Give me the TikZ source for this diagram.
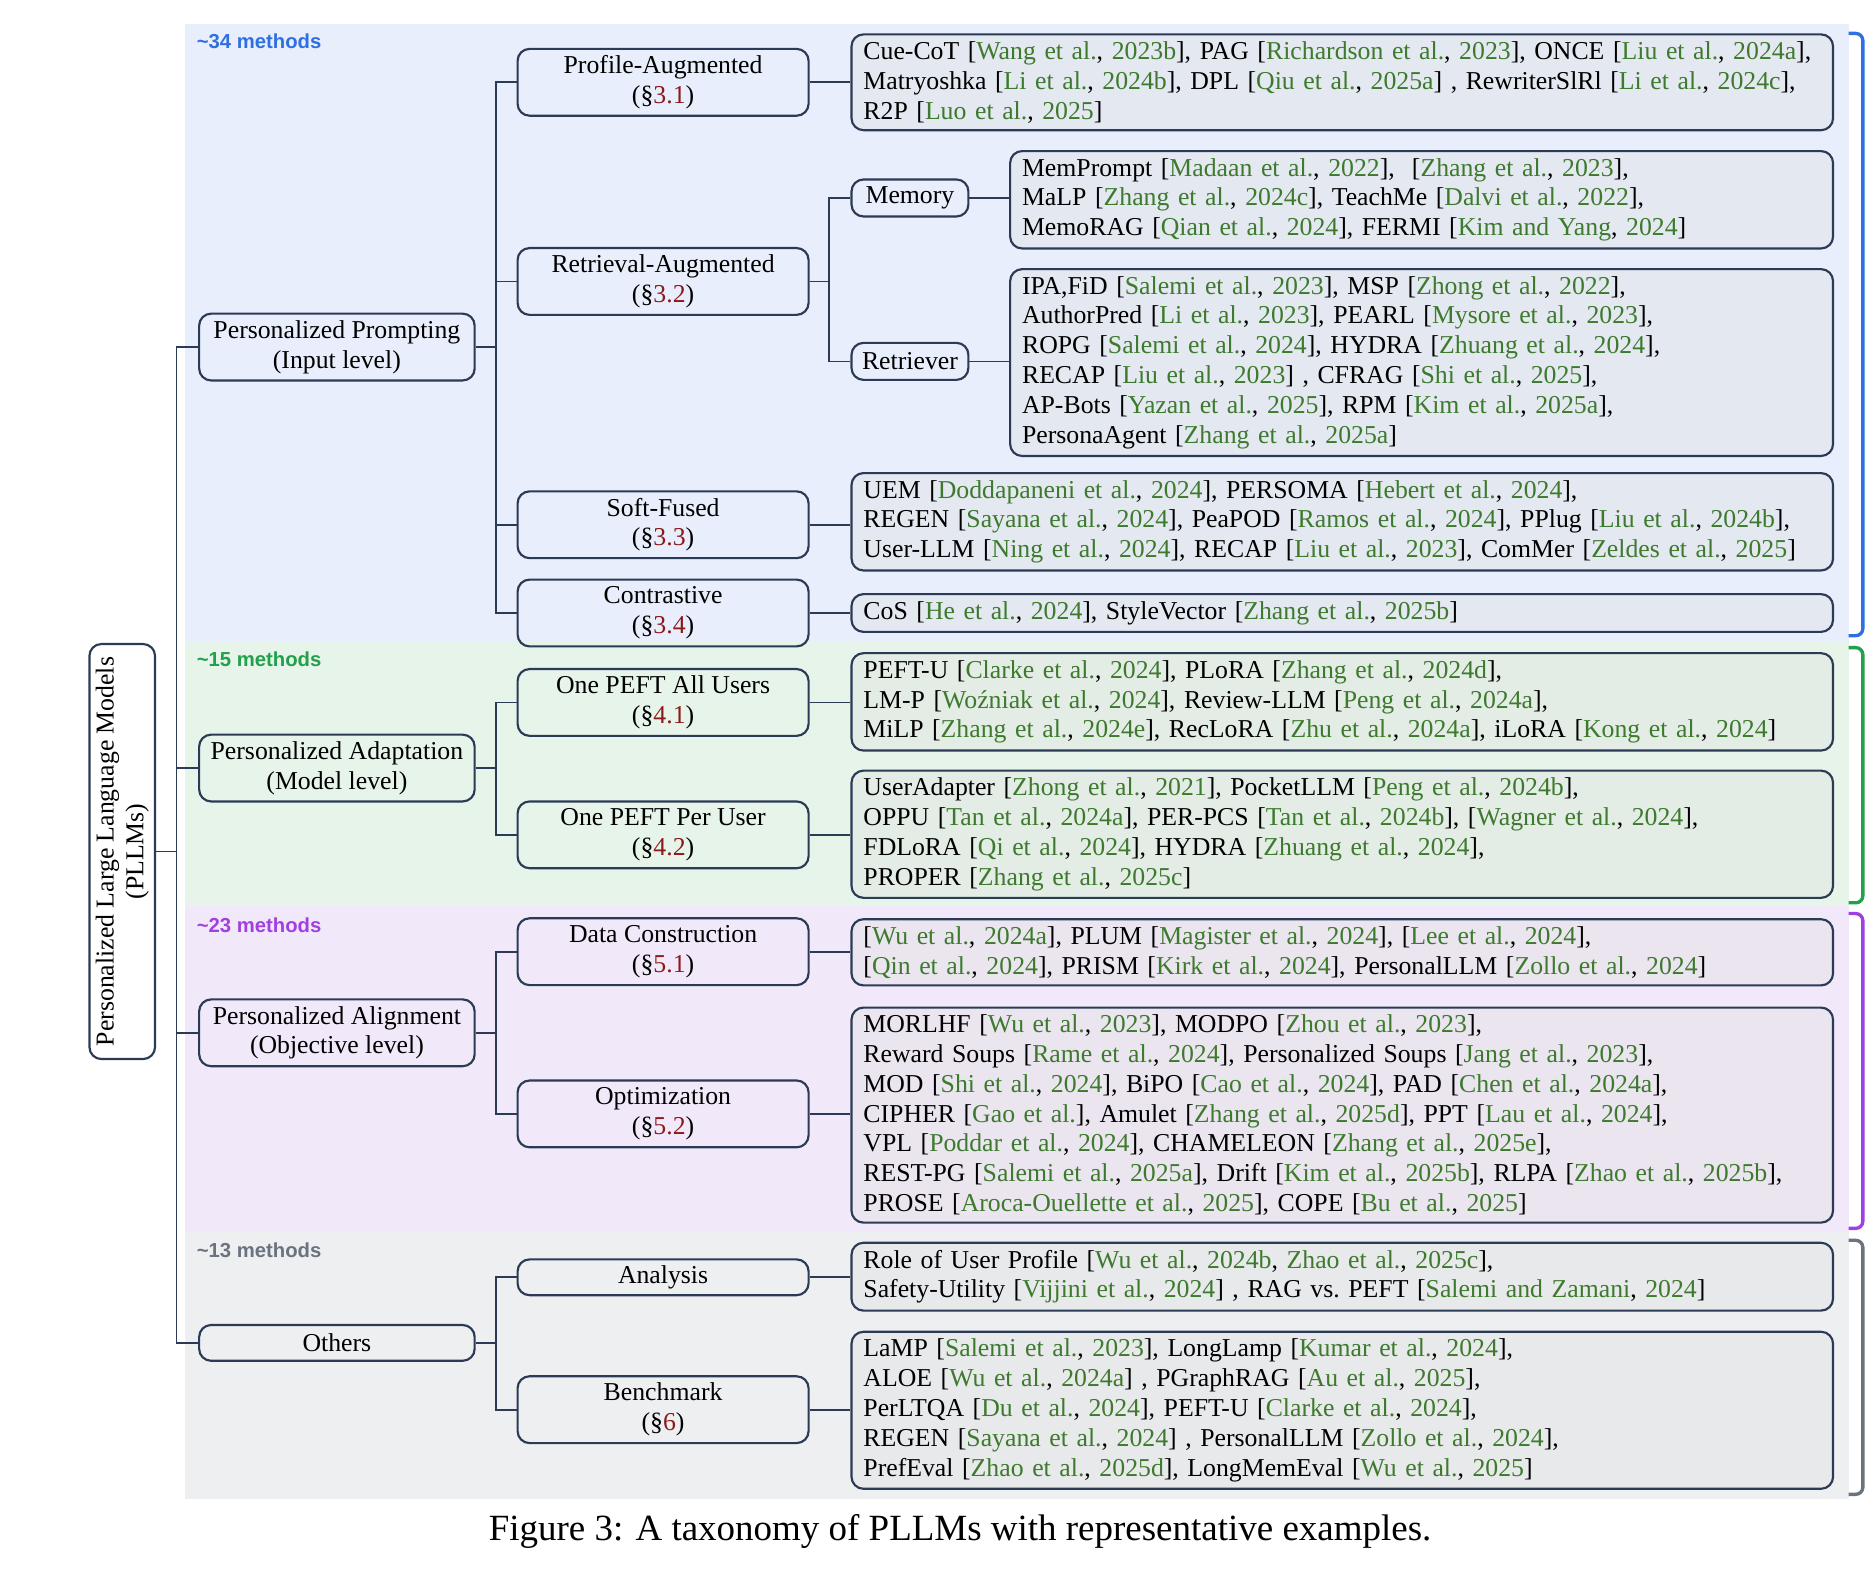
\documentclass[tikz,border=0pt]{standalone}
\usepackage{fontspec}
\setmainfont{Liberation Serif}
\newfontfamily\lblfont{Liberation Sans}
\definecolor{cit}{HTML}{3D7A2E}
\definecolor{sec}{HTML}{8B1A1A}
\definecolor{bd}{HTML}{2B3A55}
\definecolor{bgb}{HTML}{E8EEFB}
\definecolor{bgg}{HTML}{E7F4EA}
\definecolor{bgp}{HTML}{F1E9F9}
\definecolor{bgy}{HTML}{EEEFF1}
\definecolor{lb}{HTML}{2F6FE4}
\definecolor{lg}{HTML}{22A04B}
\definecolor{lp}{HTML}{A040E0}
\definecolor{ly}{HTML}{6B7280}
\newcommand{\rc}[2]{[\textcolor{cit}{#1}, \textcolor{cit}{#2}]}
\newcommand{\sx}[1]{(\S\textcolor{sec}{#1})}
\begin{document}
\begin{tikzpicture}[x=0.5pt,y=-0.5pt,
 every node/.style={font=\fontsize{10.8}{12.5}\selectfont},
 bx/.style={draw=bd,line width=0.9pt,rounded corners=5pt,align=center,inner sep=2pt},
 l1/.style={bx,minimum width=115.5pt,minimum height=28pt},
 l2/.style={bx,minimum width=122pt,minimum height=28pt},
 l3/.style={bx,minimum width=49pt,minimum height=15.5pt},
 leaf/.style={draw=bd,line width=0.9pt,rounded corners=5pt,fill=black!12,fill opacity=0.4,text opacity=1,align=left,inner xsep=5pt,inner ysep=3pt,minimum width=411.5pt,text width=401.5pt},
 sleaf/.style={leaf,minimum width=345pt,text width=335pt},
 ln/.style={draw=bd,line width=0.7pt},
 mlab/.style={font=\lblfont\bfseries\fontsize{8.5}{10}\selectfont,anchor=west},
 br/.style={line width=1.4pt,rounded corners=3pt}]
\useasboundingbox (0,0) rectangle (1568,1318);
\fill[bgb] (155,20) rectangle (1550,538);
\fill[bgg] (155,538) rectangle (1550,760);
\fill[bgp] (155,760) rectangle (1550,1033);
\fill[bgy] (155,1033) rectangle (1550,1257);
\node[mlab,text=lb] (m1) at (158,35) {\textasciitilde34 methods};
\node[mlab,text=lg] (m2) at (158,553) {\textasciitilde15 methods};
\node[mlab,text=lp] (m3) at (158,776) {\textasciitilde23 methods};
\node[mlab,text=ly] (m4) at (158,1048) {\textasciitilde13 methods};
\foreach \c/\a/\b in {lb/28/533,lg/543/757,lp/766/1030,ly/1040/1253}
  \draw[br,draw=\c] (1550,\a) -| (1562,\b) -- (1550,\b);

\node[bx,rotate=90,minimum width=174pt,minimum height=27.5pt,fill=white] (root) at (102.5,714) {Personalized Large Language Models\\(PLLMs)};
\node[l1] (pp) at (282.5,291) {Personalized Prompting\\(Input level)};
\node[l1] (pa) at (282.5,644) {Personalized Adaptation\\(Model level)};
\node[l1] (pl) at (282.5,866) {Personalized Alignment\\(Objective level)};
\node[l1,minimum height=15pt] (po) at (282.5,1126) {Others};

\node[l2] (a1) at (556,69) {Profile-Augmented\\\sx{3.1}};
\node[l2] (a2) at (556,236) {Retrieval-Augmented\\\sx{3.2}};
\node[l2] (a3) at (556,440) {Soft-Fused\\\sx{3.3}};
\node[l2] (a4) at (556,514) {Contrastive\\\sx{3.4}};
\node[l2] (b1) at (556,589) {One PEFT All Users\\\sx{4.1}};
\node[l2] (b2) at (556,700) {One PEFT Per User\\\sx{4.2}};
\node[l2] (c1) at (556,798) {Data Construction\\\sx{5.1}};
\node[l2] (c2) at (556,934) {Optimization\\\sx{5.2}};
\node[l2,minimum height=15pt] (d1) at (556,1071) {Analysis};
\node[l2] (d2) at (556,1182) {Benchmark\\\sx{6}};
\node[l3] (mem) at (763,166) {Memory};
\node[l3] (ret) at (763,303) {Retriever};

\node[leaf] (La1) at (1125.5,69) {Cue-CoT \rc{Wang et al.}{2023b}, PAG \rc{Richardson et al.}{2023}, ONCE \rc{Liu et al.}{2024a},\\Matryoshka \rc{Li et al.}{2024b}, DPL \rc{Qiu et al.}{2025a} , RewriterSlRl \rc{Li et al.}{2024c},\\R2P \rc{Luo et al.}{2025}};
\node[sleaf] (Lm) at (1192,167.5) {MemPrompt \rc{Madaan et al.}{2022}, \ [\textcolor{cit}{Zhang et al.}, \textcolor{cit}{2023}],\\MaLP \rc{Zhang et al.}{2024c}, TeachMe \rc{Dalvi et al.}{2022},\\MemoRAG \rc{Qian et al.}{2024}, FERMI \rc{Kim and Yang}{2024}};
\node[sleaf] (Lr) at (1192,304) {IPA,FiD \rc{Salemi et al.}{2023}, MSP \rc{Zhong et al.}{2022},\\AuthorPred \rc{Li et al.}{2023}, PEARL \rc{Mysore et al.}{2023},\\ROPG \rc{Salemi et al.}{2024}, HYDRA \rc{Zhuang et al.}{2024},\\RECAP \rc{Liu et al.}{2023} , CFRAG \rc{Shi et al.}{2025},\\AP-Bots \rc{Yazan et al.}{2025}, RPM \rc{Kim et al.}{2025a},\\PersonaAgent \rc{Zhang et al.}{2025a}};
\node[leaf] (La3) at (1125.5,437.5) {UEM \rc{Doddapaneni et al.}{2024}, PERSOMA \rc{Hebert et al.}{2024},\\REGEN \rc{Sayana et al.}{2024}, PeaPOD \rc{Ramos et al.}{2024}, PPlug \rc{Liu et al.}{2024b},\\User-LLM \rc{Ning et al.}{2024}, RECAP \rc{Liu et al.}{2023}, ComMer \rc{Zeldes et al.}{2025}};
\node[leaf] (La4) at (1125.5,514) {CoS \rc{He et al.}{2024}, StyleVector \rc{Zhang et al.}{2025b}};
\node[leaf] (Lb1) at (1125.5,588.5) {PEFT-U \rc{Clarke et al.}{2024}, PLoRA \rc{Zhang et al.}{2024d},\\LM-P \rc{Woźniak et al.}{2024}, Review-LLM \rc{Peng et al.}{2024a},\\MiLP \rc{Zhang et al.}{2024e}, RecLoRA \rc{Zhu et al.}{2024a}, iLoRA \rc{Kong et al.}{2024}};
\node[leaf] (Lb2) at (1125.5,699.5) {UserAdapter \rc{Zhong et al.}{2021}, PocketLLM \rc{Peng et al.}{2024b},\\OPPU \rc{Tan et al.}{2024a}, PER-PCS \rc{Tan et al.}{2024b}, \rc{Wagner et al.}{2024},\\FDLoRA \rc{Qi et al.}{2024}, HYDRA \rc{Zhuang et al.}{2024},\\PROPER \rc{Zhang et al.}{2025c}};
\node[leaf] (Lc1) at (1125.5,798.5) {\rc{Wu et al.}{2024a}, PLUM \rc{Magister et al.}{2024}, \rc{Lee et al.}{2024},\\\rc{Qin et al.}{2024}, PRISM \rc{Kirk et al.}{2024}, PersonalLLM \rc{Zollo et al.}{2024}};
\node[leaf] (Lc2) at (1125.5,935) {MORLHF \rc{Wu et al.}{2023}, MODPO \rc{Zhou et al.}{2023},\\Reward Soups \rc{Rame et al.}{2024}, Personalized Soups \rc{Jang et al.}{2023},\\MOD \rc{Shi et al.}{2024}, BiPO \rc{Cao et al.}{2024}, PAD \rc{Chen et al.}{2024a},\\CIPHER [\textcolor{cit}{Gao et al.}], Amulet \rc{Zhang et al.}{2025d}, PPT \rc{Lau et al.}{2024},\\VPL \rc{Poddar et al.}{2024}, CHAMELEON \rc{Zhang et al.}{2025e},\\REST-PG \rc{Salemi et al.}{2025a}, Drift \rc{Kim et al.}{2025b}, RLPA \rc{Zhao et al.}{2025b},\\PROSE \rc{Aroca-Ouellette et al.}{2025}, COPE \rc{Bu et al.}{2025}};
\node[leaf] (Ld1) at (1125.5,1070.5) {Role of User Profile [\textcolor{cit}{Wu et al.}, \textcolor{cit}{2024b}, \textcolor{cit}{Zhao et al.}, \textcolor{cit}{2025c}],\\Safety-Utility \rc{Vijjini et al.}{2024} , RAG vs.\ PEFT \rc{Salemi and Zamani}{2024}};
\node[leaf] (Ld2) at (1125.5,1182.5) {LaMP \rc{Salemi et al.}{2023}, LongLamp \rc{Kumar et al.}{2024},\\ALOE \rc{Wu et al.}{2024a} , PGraphRAG \rc{Au et al.}{2025},\\PerLTQA \rc{Du et al.}{2024}, PEFT-U \rc{Clarke et al.}{2024},\\REGEN \rc{Sayana et al.}{2024} , PersonalLLM \rc{Zollo et al.}{2024},\\PrefEval \rc{Zhao et al.}{2025d}, LongMemEval \rc{Wu et al.}{2025}};

% tree
\draw[ln] (root.south) -- ++(17,0) coordinate (j0);
\foreach \n in {pp,pa,pl,po} \draw[ln] (j0) |- (\n.west);
\draw[ln] (pp.east) -- ++(17,0) coordinate (j1);
\foreach \n in {a1,a2,a3,a4} \draw[ln] (j1) |- (\n.west);
\draw[ln] (pa.east) -- ++(17,0) coordinate (j2);
\foreach \n in {b1,b2} \draw[ln] (j2) |- (\n.west);
\draw[ln] (pl.east) -- ++(17,0) coordinate (j3);
\foreach \n in {c1,c2} \draw[ln] (j3) |- (\n.west);
\draw[ln] (po.east) -- ++(17,0) coordinate (j4);
\foreach \n in {d1,d2} \draw[ln] (j4) |- (\n.west);
\draw[ln] (a2.east) -- ++(16,0) coordinate (j5);
\foreach \n in {mem,ret} \draw[ln] (j5) |- (\n.west);
\draw[ln] (mem.east) -- (mem.east -| Lm.west);
\draw[ln] (ret.east) -- (ret.east -| Lr.west);
\foreach \a/\b in {a1/La1,a3/La3,a4/La4,b1/Lb1,b2/Lb2,c1/Lc1,c2/Lc2,d1/Ld1,d2/Ld2}
  \draw[ln] (\a.east) -- (\a.east -| \b.west);

\node[font=\fontsize{15.5}{18}\selectfont] (cap) at (805,1284) {Figure 3: A taxonomy of PLLMs with representative examples.};
\end{tikzpicture}
\end{document}
